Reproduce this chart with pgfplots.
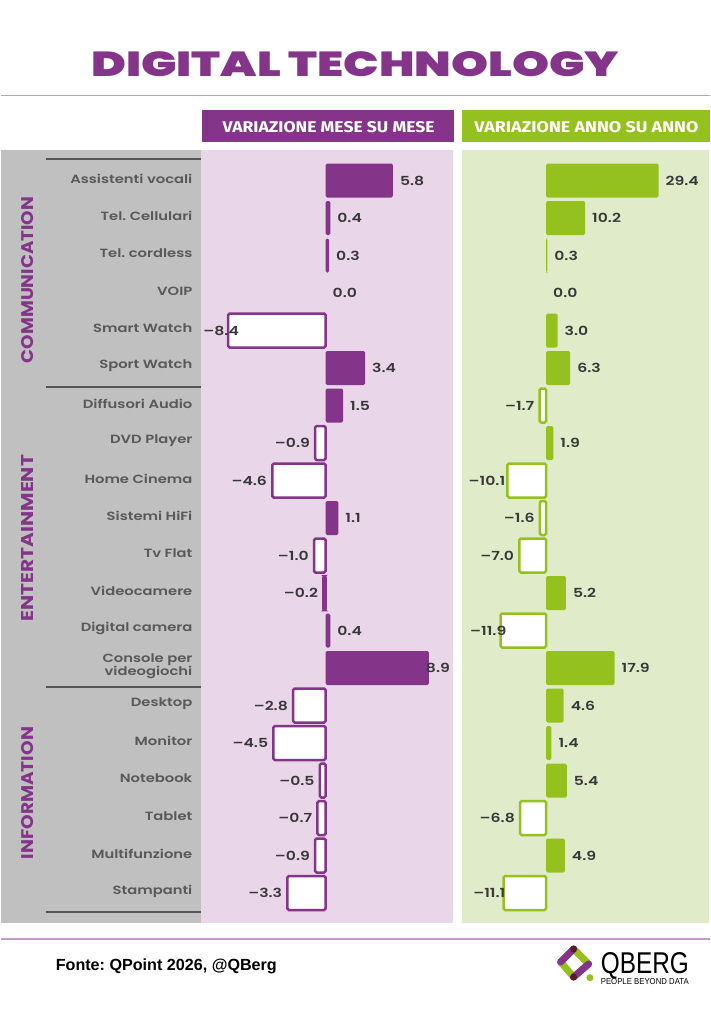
\documentclass[border=0pt]{standalone}
\usepackage{pgfplots}
\pgfplotsset{compat=1.18}
\usepackage{pgfplotstable}
\usepackage{fontspec}
\setmainfont{Poppins}
\newfontfamily\titlefont{Poppins Black}
\newfontfamily\semibold{Poppins SemiBold}
\newfontfamily\boldfont{Poppins Bold}
\newfontfamily\headfont{Fira Sans}
\newfontfamily\arialfont{Liberation Sans}
\frenchspacing

\definecolor{qpurple}{HTML}{84358A}
\definecolor{qgreen}{HTML}{95C11F}
\definecolor{pinkbg}{HTML}{E9D7E9}
\definecolor{greenbg}{HTML}{E0ECC9}
\definecolor{graybg}{HTML}{C0C0C0}
\definecolor{valgray}{HTML}{383838}
\definecolor{catgray}{HTML}{595959}
\definecolor{sepgray}{HTML}{555555}
\definecolor{thinline}{HTML}{C39BC9}
\definecolor{logodark}{HTML}{5A1A2A}

% month-on-month change (rows 0..19 top to bottom)
\pgfplotstableread{
row val dx
0  5.8  0
1  0.4  0
2  0.3  0
5  3.4  0
6  1.5  0
9  1.1  0
12 0.4  0
13 8.9  -10
}\momPos
\pgfplotstableread{
row val dx
4  -8.4 16
7  -0.9 0
8  -4.6 0
10 -1.0 0
11 -0.2 0
14 -2.8 0
15 -4.5 0
16 -0.5 0
17 -0.7 0
18 -0.9 0
19 -3.3 0
}\momNeg
\pgfplotstableread{
row val dx
3  0.0  0
}\momZero
% year-on-year change
\pgfplotstableread{
row val dx
0  29.4 0
1  10.2 0
2  0.3  0
4  3.0  0
5  6.3  0
7  1.9  0
11 5.2  0
13 17.9 0
14 4.6  0
15 1.4  0
16 5.4  0
18 4.9  0
}\yoyPos
\pgfplotstableread{
row val dx
6  -1.7  0
8  -10.1 3
9  -1.6  0
10 -7.0  0
12 -11.9 11
17 -6.8  0
19 -11.1 7
}\yoyNeg
\pgfplotstableread{
row val dx
3  0.0  0
}\yoyZero

\pgfplotsset{
  panel/.style={
    scale only axis, height=773pt, anchor=south west,
    ymin=-0.813, ymax=19.8, y dir=reverse,
    axis line style={draw=none}, xtick=\empty, ytick=\empty,
    major tick length=0pt, clip=false,
  },
  vlabels/.style={
    nodes near coords align={horizontal},
    visualization depends on={\thisrow{dx}\as\ldx},
    every node near coord/.append style={xshift=\ldx pt, text=valgray,
      font=\semibold\fontsize{12.5}{14}\selectfont, xscale=1.25, inner sep=3pt},
  },
  poslabels/.style={vlabels,
    nodes near coords={\pgfmathprintnumber[fixed,fixed zerofill,precision=1,assume math mode=true]{\pgfplotspointmeta}},
    every node near coord/.append style={xshift=2.5pt}},
  neglabels/.style={vlabels,
    nodes near coords={\pgfkeys{/pgf/fpu=true,/pgf/fpu/output format=float}%
      \pgfmathparse{abs(\pgfplotspointmeta)}%
      –\pgfmathprintnumber[fixed,fixed zerofill,precision=1,assume math mode=true]{\pgfmathresult}}},
}

\begin{document}
\begin{tikzpicture}
% page
\fill[white] (0pt,0pt) rectangle (709pt,-1024pt);

% title
\node[text=qpurple, inner sep=0pt] at (354.5pt,-64pt)
  {\resizebox{528pt}{25pt}{\titlefont DIGITAL TECHNOLOGY}};
\draw[thinline, line width=1.2pt] (0pt,-95.7pt) -- (709pt,-95.7pt);

% column headers
\fill[qpurple] (201pt,-110pt) rectangle (453pt,-142pt);
\node[text=white, inner sep=0pt] at (328pt,-127pt)
  {\resizebox{212pt}{11pt}{\headfont\bfseries VARIAZIONE MESE SU MESE}};
\fill[qgreen] (461pt,-110pt) rectangle (709pt,-142pt);
\node[text=white, inner sep=0pt] at (585.8pt,-127pt)
  {\resizebox{224pt}{11pt}{\headfont\bfseries VARIAZIONE ANNO SU ANNO}};

% panels
\fill[graybg] (0pt,-150pt) rectangle (200pt,-923pt);
\fill[pinkbg] (200pt,-150pt) rectangle (452pt,-923pt);
\fill[greenbg] (461pt,-150pt) rectangle (708pt,-923pt);

% group separators
\foreach \yy in {159, 386.75, 686.75, 911.75}
  \draw[sepgray, line width=1.5pt] (45pt,-\yy pt) -- (200pt,-\yy pt);

% group names
\node[rotate=90, text=qpurple, inner sep=0pt] at (26.5pt,-280pt)
  {\resizebox{166pt}{12pt}{\boldfont COMMUNICATION}};
\node[rotate=90, text=qpurple, inner sep=0pt] at (26.5pt,-538pt)
  {\resizebox{166pt}{12pt}{\boldfont ENTERTAINMENT}};
\node[rotate=90, text=qpurple, inner sep=0pt] at (26.5pt,-793pt)
  {\resizebox{132pt}{12pt}{\boldfont INFORMATION}};

% month-on-month panel with category names
\begin{axis}[panel, at={(200pt,-923pt)}, width=252pt,
  xmin=-10.78, xmax=10.95,
  ytick={0,...,19},
  yticklabels={Assistenti vocali, Tel. Cellulari, Tel. cordless, VOIP,
    Smart Watch, Sport Watch, Diffusori Audio, DVD Player, Home Cinema,
    Sistemi HiFi, Tv Flat, Videocamere, Digital camera,
    {Console per\\videogiochi}, Desktop, Monitor, Notebook, Tablet,
    Multifunzione, Stampanti},
  yticklabel style={anchor=east, inner sep=0pt, xshift=-8pt, yshift=2pt,
    align=right, text=catgray, xscale=1.24,
    font=\semibold\fontsize{11.9}{11.5}\selectfont},
]
\addplot[xbar, bar width=34pt, fill=qpurple, draw=none, rounded corners=1.5pt,
  poslabels] table[x=val, y=row] {\momPos};
\addplot[xbar, bar width=34pt, fill=white, draw=qpurple, line width=2.5pt,
  rounded corners=1.5pt, neglabels] table[x=val, y=row] {\momNeg};
\addplot[xbar, bar width=34pt, fill=none, draw=none,
  poslabels] table[x=val, y=row] {\momZero};
\end{axis}

% year-on-year panel
\begin{axis}[panel, at={(461pt,-923pt)}, width=247pt,
  xmin=-22.1, xmax=42.5]
\addplot[xbar, bar width=34pt, fill=qgreen, draw=none, rounded corners=1.5pt,
  poslabels] table[x=val, y=row] {\yoyPos};
\addplot[xbar, bar width=34pt, fill=white, draw=qgreen, line width=2.5pt,
  rounded corners=1.5pt, neglabels] table[x=val, y=row] {\yoyNeg};
\addplot[xbar, bar width=34pt, fill=none, draw=none,
  poslabels] table[x=val, y=row] {\yoyZero};
\end{axis}

% footer
\draw[thinline, line width=1.2pt] (0pt,-939pt) -- (709pt,-939pt);
\node[anchor=base west, inner sep=0pt] at (55pt,-970pt)
  {\resizebox{221pt}{!}{\arialfont\bfseries Fonte: QPoint 2026, @QBerg}};

% logo
\begin{scope}[line width=7pt, line cap=round]
  \draw[qgreen] (560pt,-962pt) -- (573pt,-977pt);
  \draw[qgreen] (573pt,-949pt) -- (588pt,-964pt);
  \draw[qpurple] (560pt,-962pt) -- (573pt,-949pt);
  \draw[qpurple] (588pt,-964pt) -- (573pt,-977pt);
  \fill[logodark] (573pt,-949pt) circle (3.5pt);
  \fill[logodark] (573pt,-977pt) circle (3.5pt);
  \fill[qgreen] (589.3pt,-977.7pt) circle (3.5pt);
\end{scope}
\node[anchor=base west, inner sep=0pt] at (600pt,-973.5pt)
  {\raisebox{0pt}[\height][0pt]{\resizebox{88pt}{21pt}{\arialfont QBERG}}};
\node[anchor=base west, inner sep=0pt] at (600pt,-984pt)
  {\resizebox{88pt}{6pt}{\arialfont PEOPLE BEYOND DATA}};
\end{tikzpicture}
\end{document}
